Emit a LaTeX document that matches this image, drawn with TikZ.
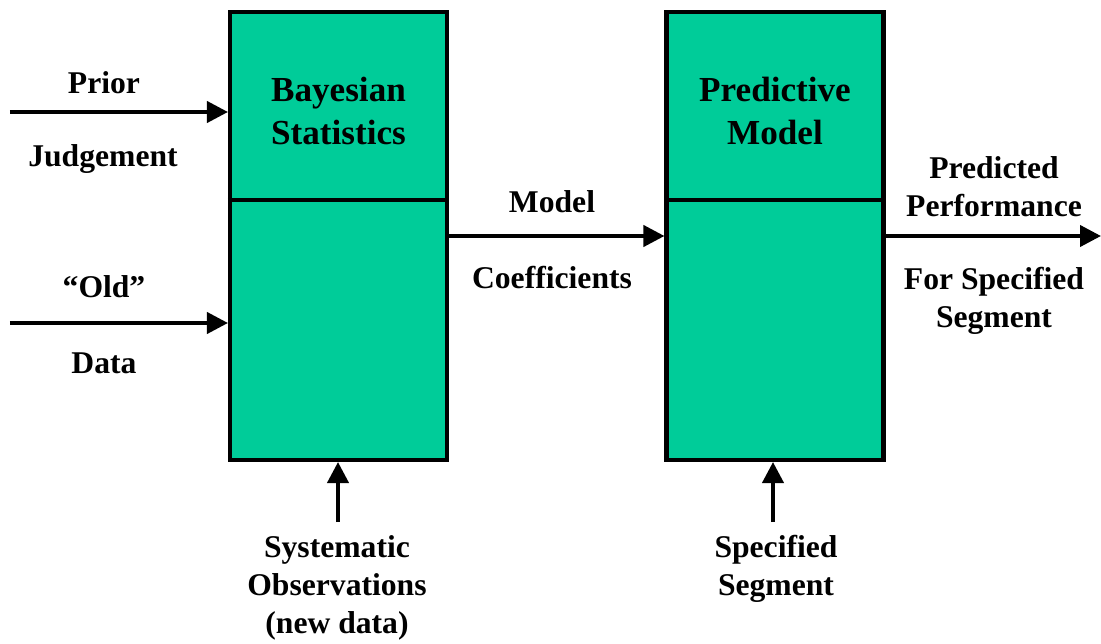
\documentclass[tikz,border=0pt]{standalone}
\usepackage{fontspec}
\setmainfont{Liberation Serif}
\usetikzlibrary{arrows.meta}
\definecolor{stagegreen}{RGB}{0,204,153}

\begin{document}
\begin{tikzpicture}[>={Triangle[length=0.42cm,width=0.42cm]},
  stage/.style={draw, line width=2.3pt, fill=stagegreen, minimum width=4.34cm, minimum height=8.96cm, inner sep=0pt},
  title/.style={align=center, font=\bfseries\fontsize{20}{24}\selectfont},
  lbl/.style={align=center, font=\bfseries\fontsize{18}{21.6}\selectfont},
  flow/.style={->, line width=2.3pt}]
\useasboundingbox (0,0) rectangle (22.02,-12.88);
% the two stages
\node[stage] (bayes) at (6.77,-4.72) {};
\node[stage] (pred) at (15.50,-4.72) {};
\draw[line width=2.3pt] (bayes.west |- 0,-4.0) -- (bayes.east |- 0,-4.0);
\draw[line width=2.3pt] (pred.west |- 0,-4.0) -- (pred.east |- 0,-4.0);
\node[title] (bayestitle) at (6.77,-2.22) {Bayesian\\Statistics};
\node[title] (predtitle) at (15.50,-2.22) {Predictive\\Model};
% inputs
\coordinate (priorin) at (0.2,-2.24);
\coordinate (oldin) at (0.2,-6.46);
\coordinate (obsin) at (6.76,-10.44);
\coordinate (segin) at (15.46,-10.44);
\coordinate (perfout) at (22.02,-4.72);
\draw[flow] (priorin) -- (priorin -| bayes.west);
\draw[flow] (oldin) -- (oldin -| bayes.west);
\draw[flow] (obsin) -- (obsin |- bayes.south);
\draw[flow] (segin) -- (segin |- pred.south);
\draw[flow] (bayes.east) -- (pred.west);
\draw[flow] (pred.east) -- (perfout);
% labels
\node[lbl] (prior) at (2.08,-1.66) {Prior};
\node[lbl] (judge) at (2.06,-3.18) {Judgement};
\node[lbl] (old) at (2.08,-5.74) {“Old”};
\node[lbl] (data) at (2.08,-7.26) {Data};
\node[lbl] (model) at (11.04,-4.04) {Model};
\node[lbl] (coef) at (11.04,-5.56) {Coefficients};
\node[lbl] (predicted) at (19.88,-3.74) {Predicted\\Performance};
\node[lbl] (forseg) at (19.88,-6.02) {For Specified\\Segment};
\node[lbl] (obs) at (6.74,-11.76) {Systematic\\Observations\\(new data)};
\node[lbl] (specseg) at (15.52,-11.38) {Specified\\Segment};
\end{tikzpicture}
\end{document}
